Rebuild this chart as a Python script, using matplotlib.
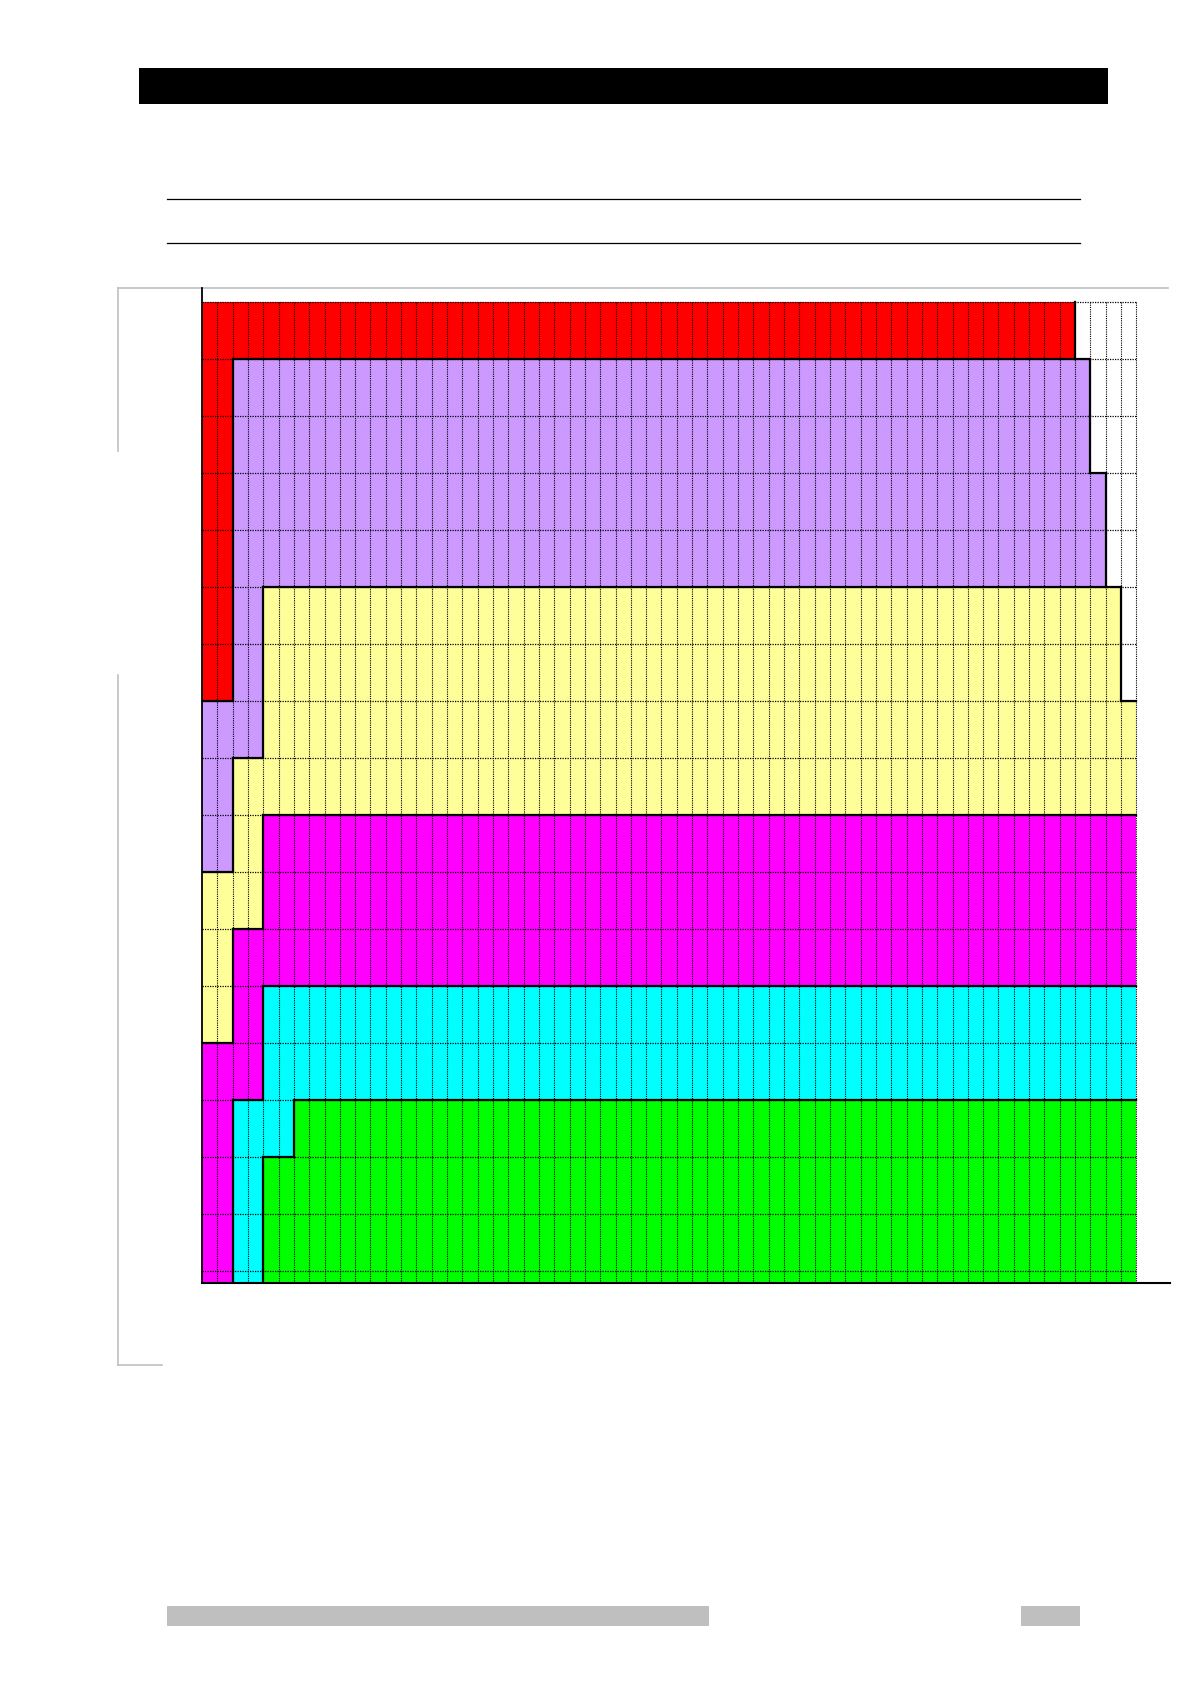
import numpy as np
import matplotlib
matplotlib.use("Agg")
import matplotlib.pyplot as plt
from matplotlib.patches import Rectangle

# ---------------- data ----------------
rows = list(range(18))          # row 17 is clipped by the x axis
n_cols = 61
series_names = ["red", "purple", "yellow", "magenta", "cyan", "green", "blank"]
series_colors = ["#FF0000", "#CC99FF", "#FFFF99", "#FF00FF", "#00FFFF", "#00FF00", "#FFFFFF"]

red_w     = [57, 2, 2, 2, 2, 2, 2, 0, 0, 0, 0, 0, 0, 0, 0, 0, 0, 0]
purple_w  = [0, 56, 56, 57, 57, 2, 2, 4, 2, 2, 0, 0, 0, 0, 0, 0, 0, 0]
yellow_w  = [0, 0, 0, 0, 0, 56, 56, 57, 59, 2, 4, 2, 2, 0, 0, 0, 0, 0]
magenta_w = [0, 0, 0, 0, 0, 0, 0, 0, 0, 57, 57, 59, 2, 4, 2, 2, 2, 2]
cyan_w    = [0, 0, 0, 0, 0, 0, 0, 0, 0, 0, 0, 0, 57, 57, 4, 2, 2, 2]
green_w   = [0, 0, 0, 0, 0, 0, 0, 0, 0, 0, 0, 0, 0, 0, 55, 57, 57, 57]
blank_w   = [4, 3, 3, 2, 2, 1, 1, 0, 0, 0, 0, 0, 0, 0, 0, 0, 0, 0]

widths = [red_w, purple_w, yellow_w, magenta_w, cyan_w, green_w, blank_w]

# ---------------- figure ----------------
W, H = 1190, 1684
fig = plt.figure(figsize=(W / 100, H / 100), dpi=100)

# page overlay in pixel coordinates
page = fig.add_axes([0, 0, 1, 1])
page.set_xlim(0, W)
page.set_ylim(H, 0)
page.axis("off")
page.add_patch(Rectangle((139, 68), 969, 36, color="black", lw=0))
page.plot([167, 1080], [199, 199], color="black", lw=0.9)
page.plot([167, 1080], [243, 243], color="black", lw=0.9)
page.add_patch(Rectangle((167, 1606), 542, 20, color="#BFBFBF", lw=0))
page.add_patch(Rectangle((1021, 1606), 59, 20, color="#BFBFBF", lw=0))
gray = "#C0C0C0"
page.plot([118, 1168], [288, 288], color=gray, lw=1.2)
page.plot([118, 118], [288, 451], color=gray, lw=1.2)
page.plot([118, 118], [675, 1365], color=gray, lw=1.2)
page.plot([118, 162], [1365, 1365], color=gray, lw=1.2)

# main chart axes
x0, x1, y0, y1 = 202, 1170, 288, 1283
ax = fig.add_axes([x0 / W, 1 - y1 / H, (x1 - x0) / W, (y1 - y0) / H])
col_px = 934.3 / n_cols
row_px = 57.0
ax.set_xlim(0, (x1 - x0) / col_px)
top_off = (301.8 - y0) / row_px
ax.set_ylim(top_off + (y1 - y0) / row_px - top_off * 0 - top_off, -top_off)
ax.set_ylim((y1 - 301.8) / row_px, -top_off)

left = np.zeros(len(rows))
for name, col, w in zip(series_names, series_colors, widths):
    w = np.array(w, dtype=float)
    ax.barh(rows, w, left=left, height=1.0, align="edge", color=col, linewidth=0, zorder=1)
    left += w

# build category matrix for borders
mat = np.zeros((len(rows), n_cols), dtype=int)
for r in rows:
    seq = []
    for k, w in enumerate(widths):
        seq += [k] * w[r]
    mat[r] = seq

y_bottom = ax.get_ylim()[0]
dot = (0, (1, 1))
# gridlines
for c in range(1, n_cols + 1):
    ax.vlines(c, 0, y_bottom, colors="black", linestyles=dot, lw=0.8, zorder=2)
for r in range(0, len(rows)):
    ax.hlines(r, 0, n_cols, colors="black", linestyles=dot, lw=0.9, zorder=2)

# thick borders between different categories
lw_b = 1.6
for r in range(len(rows)):
    for c in range(n_cols - 1):
        if mat[r, c] != mat[r, c + 1]:
            ax.plot([c + 1, c + 1], [r, r + 1], color="black", lw=lw_b, zorder=3,
                    solid_capstyle="projecting")
for r in range(len(rows) - 1):
    for c in range(n_cols):
        if mat[r, c] != mat[r + 1, c]:
            ax.plot([c, c + 1], [r + 1, r + 1], color="black", lw=lw_b, zorder=3,
                    solid_capstyle="projecting")

for s in ["top", "right"]:
    ax.spines[s].set_visible(False)
ax.spines["left"].set_linewidth(1.3)
ax.spines["bottom"].set_linewidth(1.5)
ax.spines["left"].set_zorder(4)
ax.spines["bottom"].set_zorder(4)
ax.set_xticks([])
ax.set_yticks([])
ax.set_facecolor("none")

fig.savefig("out.png", dpi=100)
